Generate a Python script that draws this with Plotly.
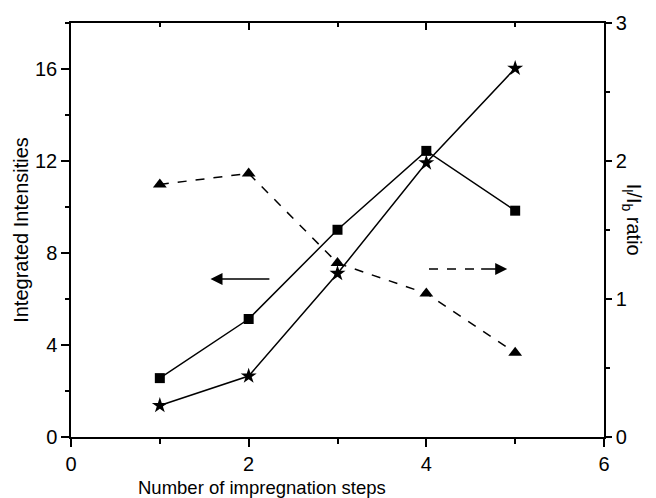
import plotly.graph_objects as go

steps = [1, 2, 3, 4, 5]
squares = [2.56, 5.13, 9.01, 12.44, 9.84]
stars = [1.37, 2.65, 7.11, 11.92, 16.03]
ratio = [1.83, 1.91, 1.26, 1.04, 0.61]

x_ticks = [0, 2, 4, 6]
y_ticks = [0, 4, 8, 12, 16]
y2_ticks = [0, 1, 2, 3]

FONT = "Liberation Sans, Arial, sans-serif"
fig = go.Figure()

fig.add_trace(go.Scatter(x=steps, y=squares, mode="lines+markers",
                         line=dict(color="black", width=1.5),
                         marker=dict(symbol="square", size=10, color="black"),
                         showlegend=False))
fig.add_trace(go.Scatter(x=steps, y=stars, mode="lines+markers",
                         line=dict(color="black", width=1.5),
                         marker=dict(symbol="star", size=12, color="black"),
                         showlegend=False))
fig.add_trace(go.Scatter(x=steps, y=ratio, mode="lines+markers", yaxis="y2",
                         line=dict(color="black", width=1.5, dash="dash"),
                         marker=dict(symbol="triangle-up", size=12, color="black"),
                         showlegend=False))
# invisible trace to anchor the top axis
fig.add_trace(go.Scatter(x=[None], y=[None], xaxis="x2", showlegend=False, hoverinfo="skip"))

axis_common = dict(showline=True, linecolor="black", linewidth=1.5, showgrid=False,
                   zeroline=False, tickcolor="black", tickwidth=1.5,
                   tickfont=dict(family=FONT, size=20, color="black"))

fig.update_layout(
    width=656, height=498,
    margin=dict(l=71, r=52, t=20, b=61),
    plot_bgcolor="white", paper_bgcolor="white",
    font=dict(family=FONT, color="black"),
    xaxis=dict(range=[0, 6], tickvals=x_ticks, ticks="outside", ticklen=8,
               minor=dict(dtick=1, tick0=0, ticks="outside", ticklen=5, tickwidth=1.5, tickcolor="black"),
               **axis_common),
    xaxis2=dict(range=[0, 6], tickvals=x_ticks, ticks="inside", ticklen=7, overlaying="x", side="top",
                showticklabels=False, anchor="y",
                minor=dict(dtick=1, tick0=0, ticks="inside", ticklen=4, tickwidth=1.5, tickcolor="black"),
                **axis_common),
    yaxis=dict(range=[0, 18], tickvals=y_ticks, ticks="outside", ticklen=8,
               minor=dict(dtick=2, tick0=0, ticks="outside", ticklen=4, tickwidth=1.5, tickcolor="black"),
               title=dict(text="Integrated Intensities", font=dict(family=FONT, size=20), standoff=1),
               **axis_common),
    yaxis2=dict(range=[0, 3], tickvals=y2_ticks, ticks="outside", ticklen=6, overlaying="y", side="right",
                anchor="x",
                minor=dict(dtick=0.5, tick0=0, ticks="outside", ticklen=4, tickwidth=1.5, tickcolor="black"),
                **axis_common),
)

# x axis title (offset left as in the reference)
fig.add_annotation(text="Number of impregnation steps", xref="paper", yref="paper",
                   x=(262 - 71) / 533, xanchor="center", y=0, yanchor="middle", yshift=-50,
                   showarrow=False, font=dict(family=FONT, size=18.5, color="black"))

# right axis title (reads top-to-bottom)
fig.add_annotation(text="I<sub>l</sub>/I<sub>b</sub> ratio", xref="paper", yref="paper",
                   x=1.0, xanchor="center", xshift=28, y=0.525, yanchor="middle",
                   textangle=90, showarrow=False, font=dict(family=FONT, size=20, color="black"))

# left-pointing solid arrow (squares/stars -> left axis)
fig.add_annotation(x=1.57, y=6.87, ax=2.25, ay=6.87, xref="x", yref="y", axref="x", ayref="y",
                   text="", showarrow=True, arrowhead=2, arrowsize=1.6, arrowwidth=1.5, arrowcolor="black")

# right-pointing dashed arrow (triangles -> right axis)
fig.add_shape(type="line", x0=4.03, x1=4.6, y0=7.3, y1=7.3, xref="x", yref="y",
              line=dict(color="black", width=1.5, dash="dash"))
fig.add_annotation(x=4.91, y=7.3, ax=4.6, ay=7.3, xref="x", yref="y", axref="x", ayref="y",
                   text="", showarrow=True, arrowhead=2, arrowsize=1.6, arrowwidth=1.5, arrowcolor="black")

fig.write_html("out.html")
